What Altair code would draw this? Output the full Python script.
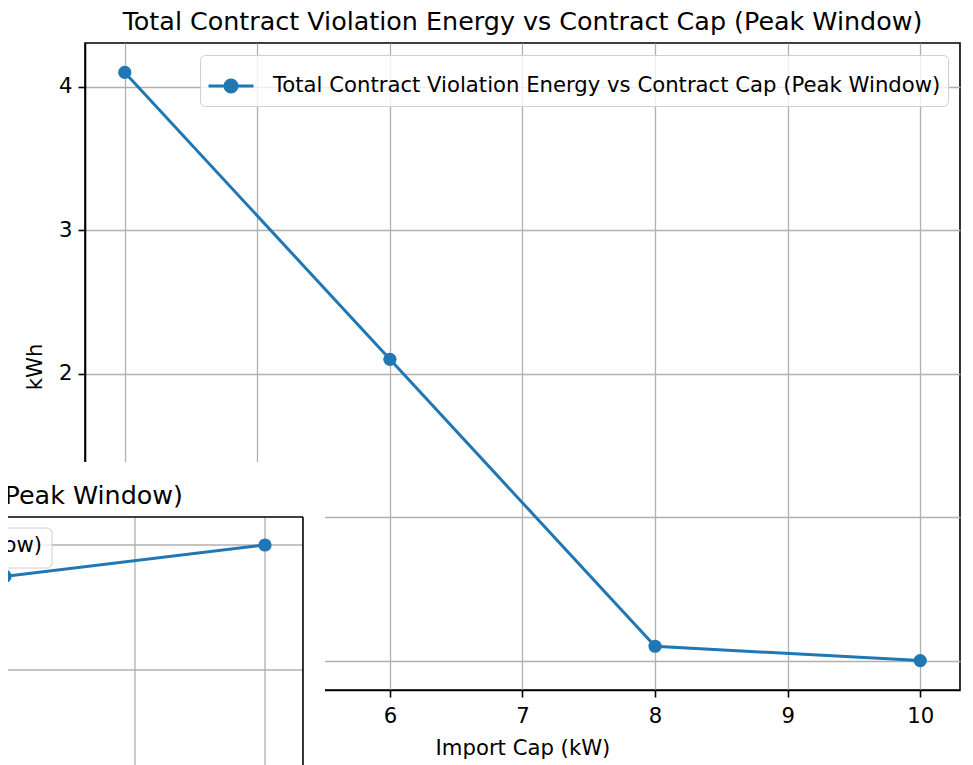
import altair as alt
import pandas as pd

BLUE = "#1f77b4"
FONT = "DejaVu Sans"
series_name = "Total Contract Violation Energy vs Contract Cap (Peak Window)"

# ---- main chart data ----
cap_kw = [4, 6, 8, 10]
violation_kwh = [4.1, 2.1, 0.1, 0.0]
x_ticks = [4, 5, 6, 7, 8, 9, 10]
y_ticks = [0, 1, 2, 3, 4]

# ---- overlapping second window (partial copy of a similar plot), in its own units ----
inset_cap = [8, 10]
inset_val = [3.75, 4.0]
inset_grid_x = [8, 9, 10]
inset_grid_y = [3, 4]
inset_panel_x = [7.9, 10.4615]
inset_panel_y = [2.2, 4.664]
inset_frame_right = 10.292
inset_frame_top = 4.224
inset_legend_box_x = [6.0, 8.3615]
inset_legend_box_y = [3.816, 4.136]
inset_legend_text_pos = [8.2846, 3.992]
inset_title_pos = [9.369, 4.392]
inset_x_domain = [8.6154, 15.3462]
inset_y_domain = [2.84, 8.016]

TITLE_SIZE = 25.4
TEXT_SIZE = 21.2
LINE_W = 3
PT_SIZE = 175

# ---------------- main layers ----------------
main_df = pd.DataFrame({"cap": cap_kw, "kwh": violation_kwh, "series": [series_name] * len(cap_kw)})
xs = alt.Scale(domain=[3.7, 10.3], nice=False, zero=False)
ys = alt.Scale(domain=[-0.205, 4.305], nice=False, zero=False)

# labels hidden under the overlapping window are left blank
xenc = alt.X("cap:Q", scale=xs, axis=alt.Axis(values=x_ticks, format="d", title="Import Cap (kW)",
                                              labelExpr="datum.value < 5.5 ? '' : datum.label",
                                              labelPadding=8, titlePadding=11))
yenc = alt.Y("kwh:Q", scale=ys, axis=alt.Axis(values=y_ticks, format="d", title="kWh",
                                              labelExpr="datum.value < 1.5 ? '' : datum.label",
                                              labelPadding=6, titlePadding=13))

r = 0.27
sym = f"M-1,0L1,0M{r},0A{r},{r},0,1,1,-{r},0A{r},{r},0,1,1,{r},0Z"

main_line = alt.Chart(main_df).mark_line(strokeWidth=LINE_W).encode(
    x=xenc, y=yenc,
    color=alt.Color("series:N", scale=alt.Scale(range=[BLUE]),
                    legend=alt.Legend(title=None, orient="top-right", offset=12, padding=7,
                                      symbolType=sym, symbolSize=2025, symbolFillColor=BLUE,
                                      symbolStrokeColor=BLUE, symbolStrokeWidth=LINE_W,
                                      labelOffset=18, labelFontSize=TEXT_SIZE, labelFont=FONT,
                                      labelColor="black", labelLimit=900,
                                      fillColor="rgba(255,255,255,0.8)", strokeColor="#d0d0d0",
                                      cornerRadius=5)),
)
main_pts = alt.Chart(main_df).mark_point(filled=True, size=PT_SIZE, opacity=1, color=BLUE).encode(
    x="cap:Q", y="kwh:Q"
)
main = alt.layer(main_line, main_pts)

# ---------------- inset layers ----------------
ixs = alt.Scale(domain=inset_x_domain, nice=False, zero=False)
iys = alt.Scale(domain=inset_y_domain, nice=False, zero=False)

panel_df = pd.DataFrame({"x1": [inset_panel_x[0]], "x2": [inset_panel_x[1]],
                         "y1": [inset_panel_y[0]], "y2": [inset_panel_y[1]]})
panel = alt.Chart(panel_df).mark_rect(color="white", opacity=1).encode(
    x=alt.X("x1:Q", scale=ixs, axis=None), x2="x2:Q",
    y=alt.Y("y1:Q", scale=iys, axis=None), y2="y2:Q")

vgrid_df = pd.DataFrame({"gx": inset_grid_x, "yt": [inset_frame_top] * 3, "yb": [inset_panel_y[0]] * 3})
vgrid = alt.Chart(vgrid_df).mark_rule(color="#b0b0b0", strokeWidth=1.3).encode(
    x=alt.X("gx:Q", scale=ixs, axis=None), y=alt.Y("yt:Q", scale=iys, axis=None), y2="yb:Q")
hgrid_df = pd.DataFrame({"gy": inset_grid_y, "xl": [inset_panel_x[0]] * 2, "xr": [inset_frame_right] * 2})
hgrid = alt.Chart(hgrid_df).mark_rule(color="#b0b0b0", strokeWidth=1.3).encode(
    y=alt.Y("gy:Q", scale=iys, axis=None), x=alt.X("xl:Q", scale=ixs, axis=None), x2="xr:Q")

frame_df = pd.DataFrame({"x1": [inset_panel_x[0], inset_frame_right],
                         "x2": [inset_frame_right, inset_frame_right],
                         "y1": [inset_frame_top, inset_frame_top],
                         "y2": [inset_frame_top, inset_panel_y[0]]})
frame = alt.Chart(frame_df).mark_rule(color="black", strokeWidth=1.6).encode(
    x=alt.X("x1:Q", scale=ixs, axis=None), x2="x2:Q",
    y=alt.Y("y1:Q", scale=iys, axis=None), y2="y2:Q")

inset_df = pd.DataFrame({"ix": inset_cap, "iy": inset_val})
inset_line = alt.Chart(inset_df).mark_line(color=BLUE, strokeWidth=LINE_W).encode(
    x=alt.X("ix:Q", scale=ixs, axis=None), y=alt.Y("iy:Q", scale=iys, axis=None))
inset_pts = alt.Chart(inset_df).mark_point(filled=True, size=PT_SIZE, opacity=1, color=BLUE).encode(
    x=alt.X("ix:Q", scale=ixs, axis=None), y=alt.Y("iy:Q", scale=iys, axis=None))

lbox_df = pd.DataFrame({"x1": [inset_legend_box_x[0]], "x2": [inset_legend_box_x[1]],
                        "y1": [inset_legend_box_y[0]], "y2": [inset_legend_box_y[1]]})
lbox = alt.Chart(lbox_df).mark_rect(fill="white", fillOpacity=0.8, stroke="#d0d0d0",
                                    strokeWidth=1, cornerRadius=5).encode(
    x=alt.X("x1:Q", scale=ixs, axis=None), x2="x2:Q",
    y=alt.Y("y1:Q", scale=iys, axis=None), y2="y2:Q")

ltext_df = pd.DataFrame({"tx": [inset_legend_text_pos[0]], "ty": [inset_legend_text_pos[1]],
                         "t": [series_name]})
ltext = alt.Chart(ltext_df).mark_text(align="right", baseline="middle", fontSize=TEXT_SIZE, font=FONT,
                                      color="black").encode(
    x=alt.X("tx:Q", scale=ixs, axis=None), y=alt.Y("ty:Q", scale=iys, axis=None), text="t:N")

ttext_df = pd.DataFrame({"tx": [inset_title_pos[0]], "ty": [inset_title_pos[1]], "t": [series_name]})
ttext = alt.Chart(ttext_df).mark_text(align="right", baseline="middle", fontSize=TITLE_SIZE, font=FONT,
                                      color="black").encode(
    x=alt.X("tx:Q", scale=ixs, axis=None), y=alt.Y("ty:Q", scale=iys, axis=None), text="t:N")

inset = alt.layer(panel, vgrid, hgrid, frame, inset_line, inset_pts, lbox, ltext, ttext)

chart = alt.layer(main, inset).resolve_scale(x="independent", y="independent").properties(
    width=875, height=647,
    background="white",
    title=alt.TitleParams(series_name, fontSize=TITLE_SIZE, font=FONT, fontWeight="normal",
                          color="black", anchor="middle", offset=8),
    autosize=alt.AutoSizeParams(type="none"),
    padding={"left": 77, "top": 35, "right": 5, "bottom": 75},
).configure_view(stroke="black", strokeWidth=1.6).configure_axis(
    domainColor="black", domainWidth=1.6, tickColor="black", tickWidth=1.6, tickSize=7,
    gridColor="#b0b0b0", gridWidth=1.3, labelFont=FONT, labelFontSize=TEXT_SIZE, labelColor="black",
    titleFont=FONT, titleFontSize=TEXT_SIZE, titleFontWeight="normal", titleColor="black",
)

chart.save("out.html", embed_options={"renderer": "svg", "actions": False})
